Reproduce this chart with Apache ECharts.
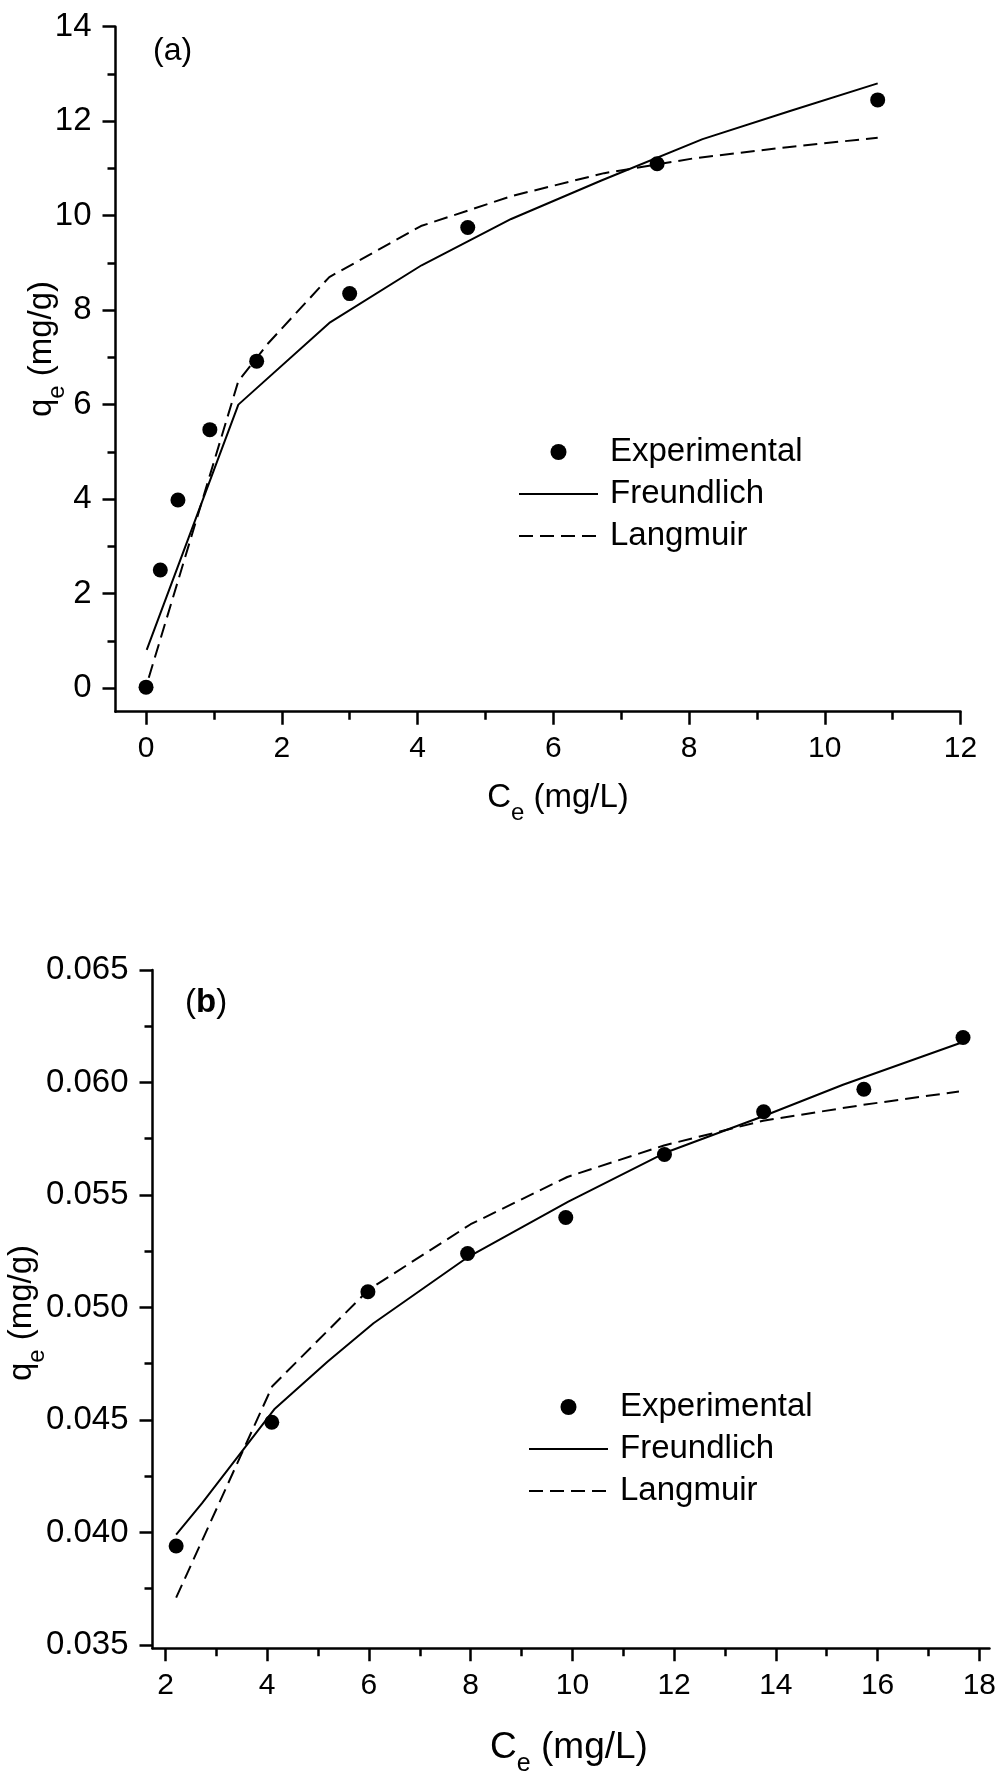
<!DOCTYPE html>
<html>
<head>
<meta charset="utf-8">
<script src="https://cdn.jsdelivr.net/npm/echarts@6/dist/echarts.min.js"></script>
<style>
  html, body { margin: 0; padding: 0; background: #fff; }
  #chart { width: 999px; height: 1776px; }
</style>
</head>
<body>
<div id="chart"></div>
<script>
var FONT = 'Liberation Sans, Arial, Helvetica, sans-serif';

// panel (a)
var expA = [[0, 0.02], [0.21, 2.5], [0.47, 3.98], [0.94, 5.47], [1.63, 6.92], [3.0, 8.35], [4.74, 9.75], [7.53, 11.1], [10.78, 12.45]];
var freA = [[0.01, 0.81], [1.36, 6.0], [2.7, 7.73], [4.06, 8.95], [5.38, 9.93], [6.7, 10.74], [8.2, 11.62], [9.5, 12.22], [10.78, 12.8]];
var lanA = [[0.04, 0.22], [1.36, 6.5], [1.8, 7.3], [2.7, 8.7], [4.05, 9.78], [5.4, 10.42], [6.75, 10.9], [8.1, 11.22], [9.45, 11.45], [10.78, 11.65]];
var xTicksA = [0, 2, 4, 6, 8, 10, 12];
var xMinorA = [1, 3, 5, 7, 9, 11];
var yTicksA = [0, 2, 4, 6, 8, 10, 12, 14];
var yMinorA = [1, 3, 5, 7, 9, 11, 13];

// panel (b)
var expB = [[2.21, 0.0394], [4.09, 0.0449], [5.98, 0.0507], [7.94, 0.0524], [9.87, 0.0540], [11.81, 0.0568], [13.76, 0.0587], [15.73, 0.0597], [17.68, 0.0620]];
var freB = [[2.21, 0.0399], [2.72, 0.0413], [4.15, 0.0455], [5.19, 0.0476], [6.09, 0.0493], [7.92, 0.0522], [9.2, 0.0538], [9.92, 0.0547], [11.85, 0.0569], [13.75, 0.0585], [15.32, 0.0599], [17.68, 0.0618]];
var lanB = [[2.21, 0.0371], [4.1, 0.0465], [6.0, 0.0508], [8.0, 0.0537], [9.9, 0.0558], [11.8, 0.0572], [13.75, 0.0583], [15.7, 0.0590], [17.6, 0.0596]];
var xTicksB = [2, 4, 6, 8, 10, 12, 14, 16, 18];
var xMinorB = [3, 5, 7, 9, 11, 13, 15, 17];
var yTicksB = [0.035, 0.040, 0.045, 0.050, 0.055, 0.060, 0.065];
var yMinorB = [0.0375, 0.0425, 0.0475, 0.0525, 0.0575, 0.0625];

var legendNames = ['Experimental', 'Freundlich', 'Langmuir'];

function axis(dim, grid, min, max, ticks, len, labels, fmt) {
  return {
    type: 'value',
    gridIndex: grid,
    min: min,
    max: max,
    position: dim === 'x' ? 'bottom' : 'left',
    axisLine: { show: labels, onZero: false, lineStyle: { color: '#000', width: 2.5 } },
    axisTick: { customValues: ticks, length: len, lineStyle: { color: '#000', width: 2.5 } },
    axisLabel: labels ? {
      customValues: ticks,
      margin: dim === 'x' ? 22 : 24,
      fontSize: dim === 'x' ? 30 : 33,
      fontFamily: FONT,
      color: '#000',
      formatter: fmt
    } : { show: false },
    splitLine: { show: false }
  };
}

function fmtB(v) { return v.toFixed(3); }

var subRich = {
  n: { fontSize: 33, fontFamily: FONT, fill: '#000' },
  s: { fontSize: 24, fontFamily: FONT, fill: '#000', padding: [31, 0, 0, 0] }
};
var subRichBig = {
  n: { fontSize: 37, fontFamily: FONT, fill: '#000' },
  s: { fontSize: 25, fontFamily: FONT, fill: '#000', padding: [33, 0, 0, 0] }
};

function series(name, data, xi, type, dashed) {
  if (type === 'scatter') {
    return { name: name, type: 'scatter', xAxisIndex: xi, yAxisIndex: xi, data: data,
      symbol: 'circle', symbolSize: 15, itemStyle: { color: '#000', opacity: 1 }, z: 5 };
  }
  return { name: name, type: 'line', xAxisIndex: xi, yAxisIndex: xi, data: data,
    symbol: 'none', showSymbol: false, smooth: false,
    itemStyle: { color: '#000' },
    lineStyle: { color: '#000', width: 2, type: dashed ? [14, 7] : 'solid' } };
}

function legend(left, top) {
  return {
    left: left, top: top, orient: 'vertical', padding: 0, itemGap: 0,
    itemWidth: 79, itemHeight: 16,
    textStyle: { fontSize: 33, fontFamily: FONT, color: '#000', lineHeight: 42, padding: [0, 0, 0, 7] },
    data: [
      { name: legendNames[0], itemStyle: { opacity: 1 } },
      { name: legendNames[1], itemStyle: { opacity: 0 } },
      { name: legendNames[2], itemStyle: { opacity: 0 } }
    ]
  };
}

var chart = echarts.init(document.getElementById('chart'), null, { renderer: 'canvas' });

var option = {
  animation: false,
  backgroundColor: '#fff',
  grid: [
    { left: 115.5, top: 26.7, width: 845, height: 685 },
    { left: 152.5, top: 970, width: 837, height: 678.3 }
  ],
  xAxis: [
    axis('x', 0, -0.45, 12, xTicksA, 13, true),
    axis('x', 0, -0.45, 12, xMinorA, 8, false),
    axis('x', 1, 1.745, 18.2, xTicksB, 13, true),
    axis('x', 1, 1.745, 18.2, xMinorB, 8, false)
  ],
  yAxis: [
    axis('y', 0, -0.5, 14, yTicksA, 13, true),
    axis('y', 0, -0.5, 14, yMinorA, 8, false),
    axis('y', 1, 0.03485, 0.065, yTicksB, 13, true, fmtB),
    axis('y', 1, 0.03485, 0.065, yMinorB, 8, false)
  ],
  legend: [legend(518, 431), legend(528, 1386)],
  series: [
    series('Freundlich', freA, 0, 'line', false),
    series('Langmuir', lanA, 0, 'line', true),
    series('Experimental', expA, 0, 'scatter'),
    series('Freundlich', freB, 2, 'line', false),
    series('Langmuir', lanB, 2, 'line', true),
    series('Experimental', expB, 2, 'scatter')
  ],
  graphic: [
    { type: 'text', x: 153, y: 51,
      style: { text: '(a)', font: '32px ' + FONT, fill: '#000', align: 'left', verticalAlign: 'middle' } },
    { type: 'text', x: 185, y: 1003,
      style: { text: '{n|(}{b|b}{n|)}', align: 'left', verticalAlign: 'middle',
        rich: { n: { fontSize: 33, fontFamily: FONT, fill: '#000' },
                b: { fontSize: 33, fontFamily: FONT, fontWeight: 'bold', fill: '#000' } } } },
    { type: 'text', x: 558, y: 798,
      style: { text: '{n|C}{s|e}{n| (mg/L)}', align: 'center', verticalAlign: 'middle', rich: subRich } },
    { type: 'text', x: 569, y: 1748,
      style: { text: '{n|C}{s|e}{n| (mg/L)}', align: 'center', verticalAlign: 'middle', rich: subRichBig } },
    { type: 'text', x: 42, y: 349, rotation: Math.PI / 2,
      style: { text: '{n|q}{s|e}{n| (mg/g)}', align: 'center', verticalAlign: 'middle', rich: subRich } },
    { type: 'text', x: 22, y: 1313, rotation: Math.PI / 2,
      style: { text: '{n|q}{s|e}{n| (mg/g)}', align: 'center', verticalAlign: 'middle', rich: subRich } }
  ]
};

chart.setOption(option);
</script>
</body>
</html>
